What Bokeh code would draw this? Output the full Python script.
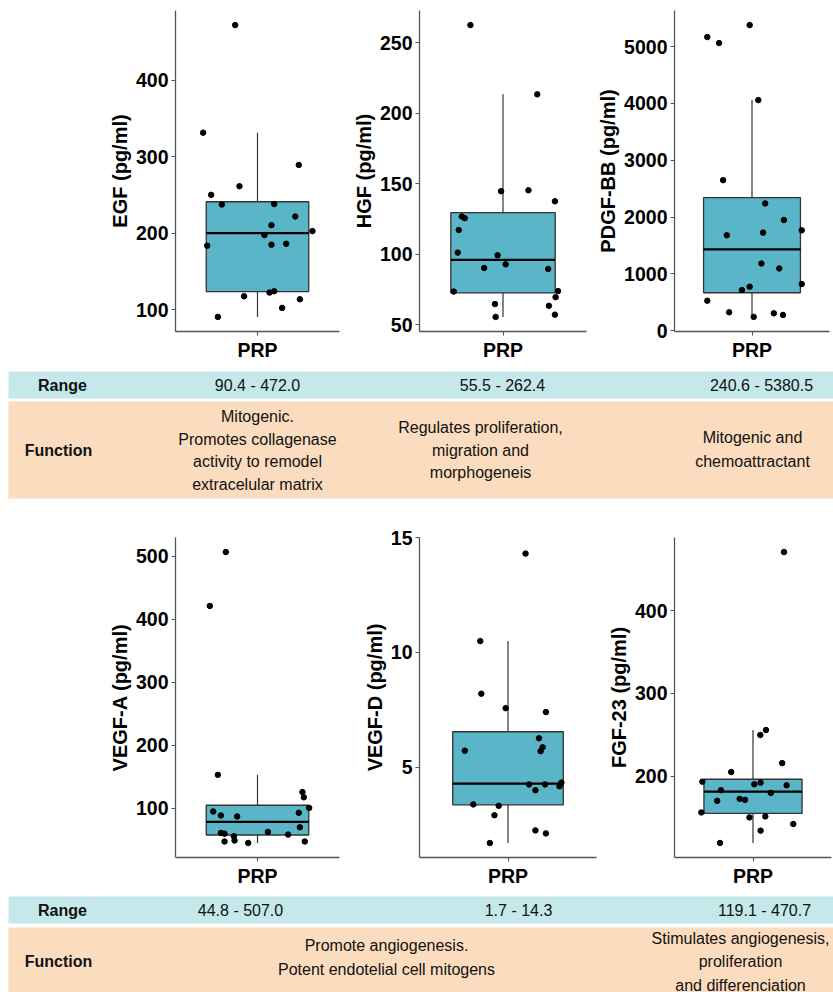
import numpy as np
from bokeh.plotting import figure
from bokeh.models import Range1d, FixedTicker
from bokeh.layouts import row, column
from bokeh.embed import file_html
from bokeh.resources import INLINE
from bokeh.core.properties import value

# ---------------- data ----------------
EGF_vals = [472.0, 331.3, 289.1, 261.3, 250.0, 237.4, 238.0, 221.7, 210.4, 202.6,
            197.4, 183.5, 184.8, 186.1, 117.4, 122.2, 124.0, 113.5, 102.2, 90.4]
EGF_jit = [-0.163, -0.398, 0.302, -0.132, -0.339, -0.261, 0.122, 0.276, 0.102, 0.402,
           0.051, -0.368, 0.102, 0.210, -0.098, 0.088, 0.122, 0.310, 0.180, -0.290]
EGF_ticks = [100, 200, 300, 400]

HGF_vals = [262.4, 213.3, 144.6, 145.3, 137.5, 126.7, 125.5, 117.1, 101.1, 99.2,
            92.8, 90.2, 89.5, 73.5, 73.8, 69.5, 64.6, 63.4, 55.5, 57.1]
HGF_jit = [-0.234, 0.246, -0.014, 0.183, 0.373, -0.296, -0.275, -0.318, -0.325, -0.039,
           0.019, -0.135, 0.325, -0.354, 0.395, 0.378, -0.058, 0.330, -0.053, 0.373]
HGF_ticks = [50, 100, 150, 200, 250]

PDGF_vals = [5380.5, 5170, 5064, 4059, 2649, 2240, 1947, 1766, 1725, 1678,
             1181, 1094, 819, 772, 713, 526, 322, 304, 275, 240.6]
PDGF_jit = [-0.018, -0.346, -0.255, 0.049, -0.224, 0.102, 0.247, 0.385, 0.086, -0.195,
            0.073, 0.211, 0.385, -0.018, -0.078, -0.346, -0.177, 0.169, 0.240, 0.013]
PDGF_ticks = [0, 1000, 2000, 3000, 4000, 5000]

VEGFA_vals = [507.0, 421.4, 153.0, 125.7, 117.3, 100.5, 94.8, 92.7, 88.5, 86.9,
              69.6, 62.3, 60.7, 59.6, 58.1, 55.4, 48.6, 47.1, 44.8, 47.1]
VEGFA_jit = [-0.232, -0.349, -0.290, 0.329, 0.339, 0.378, -0.324, 0.302, -0.268, -0.149,
             0.310, 0.076, -0.268, -0.241, 0.224, -0.173, -0.168, -0.241, -0.068, 0.346]
VEGFA_ticks = [100, 200, 300, 400, 500]

VEGFD_vals = [14.3, 10.49, 8.2, 7.57, 7.40, 6.26, 5.87, 5.70, 5.72, 4.25,
              4.25, 4.33, 4.17, 4.0, 3.38, 3.32, 2.91, 2.25, 2.12, 1.7]
VEGFD_jit = [0.119, -0.188, -0.181, -0.016, 0.257, 0.210, 0.235, 0.221, -0.293, 0.143,
             0.251, 0.362, 0.349, 0.186, -0.235, -0.063, -0.092, 0.186, 0.257, -0.123]
VEGFD_ticks = [5, 10, 15]

FGF_vals = [470.7, 255.6, 249.6, 215.6, 204.8, 193.2, 192.0, 190.0, 188.8, 182.8,
            179.6, 172.4, 171.2, 170.0, 156.0, 150.0, 151.2, 142.0, 134.0, 119.1]
FGF_jit = [0.237, 0.099, 0.056, 0.223, -0.167, -0.387, 0.058, 0.010, 0.257, -0.245,
           0.136, -0.102, -0.061, -0.274, -0.395, -0.027, 0.094, 0.308, 0.058, -0.252]
FGF_ticks = [200, 300, 400]

group_label = "PRP"

ranges_top = ["90.4 - 472.0", "55.5 - 262.4", "240.6 - 5380.5"]
functions_top = [["Mitogenic.", "Promotes collagenase", "activity to remodel", "extracelular matrix"],
                 ["Regulates proliferation,", "migration and", "morphogeneis"],
                 ["Mitogenic and", "chemoattractant"]]
ranges_bot = ["44.8 - 507.0", "1.7 - 14.3", "119.1 - 470.7"]
functions_bot = [["Promote angiogenesis.", "Potent endotelial cell mitogens"],
                 ["Stimulates angiogenesis,", "proliferation", "and differenciation"]]

# ---------------- style ----------------
BOX_FILL = "#5bb5c9"
BOX_LINE = "#333333"
AXIS_COL = "#555555"
FONT = "Liberation Sans"
TFONT = "Liberation Sans"
BLUE = "#c5e8eb"
PEACH = "#fcdcbf"
BOX_HALF = 0.375
TICK_SIZE = "19.5px"
TITLE_SIZE = "20px"
TABLE_SIZE = "16px"


def box_panel(vals, jit, ticks, ylabel, width, height, bl, br, bt, bb):
    v = np.array(vals, dtype=float)
    q1, med, q3 = np.percentile(v, [25, 50, 75])
    iqr = q3 - q1
    lo = v[v >= q1 - 1.5 * iqr].min()
    hi = v[v <= q3 + 1.5 * iqr].max()
    r = v.max() - v.min()
    y0 = v.min() - 0.05 * r
    y1 = v.max() + 0.05 * r
    for t in ticks:
        if t > y1 and t - y1 < 0.01 * r:
            y1 = t
        if t < y0 and y0 - t < 0.01 * r:
            y0 = t
    p = figure(width=width, height=height, output_backend="svg", toolbar_location=None,
               x_range=Range1d(0.4, 1.6), y_range=Range1d(y0, y1),
               min_border_left=bl, min_border_right=br, min_border_top=bt,
               min_border_bottom=bb)
    p.outline_line_color = None
    p.grid.visible = False
    p.background_fill_color = "white"
    p.border_fill_color = "white"
    # whiskers
    p.segment(x0=[1, 1], y0=[lo, q3], x1=[1, 1], y1=[q1, hi], line_color=BOX_LINE,
              line_width=1.2)
    # box
    p.quad(left=[1 - BOX_HALF], right=[1 + BOX_HALF], bottom=[q1], top=[q3],
           fill_color=BOX_FILL, line_color=BOX_LINE, line_width=1.3)
    p.segment(x0=[1 - BOX_HALF], x1=[1 + BOX_HALF], y0=[med], y1=[med],
              line_color="black", line_width=2.2)
    # points
    p.scatter(x=1 + np.array(jit), y=v, size=5.5, color="black")

    p.xaxis.ticker = FixedTicker(ticks=[1])
    p.xaxis.major_label_overrides = {1: group_label}
    p.yaxis.ticker = FixedTicker(ticks=ticks)
    p.yaxis.axis_label = ylabel
    for ax in (p.xaxis[0], p.yaxis[0]):
        ax.axis_line_color = AXIS_COL
        ax.axis_line_width = 1.3
        ax.major_tick_line_color = AXIS_COL
        ax.major_tick_line_width = 1.1
        ax.major_tick_out = 4
        ax.major_tick_in = 0
        ax.minor_tick_line_color = None
        ax.major_label_text_font = FONT
        ax.major_label_text_font_style = "bold"
        ax.major_label_text_font_size = TICK_SIZE
        ax.major_label_text_color = "black"
        ax.major_label_standoff = 3
    p.yaxis.axis_label_text_font = FONT
    p.yaxis.axis_label_text_font_style = "bold"
    p.yaxis.axis_label_text_font_size = TITLE_SIZE
    p.yaxis.axis_label_text_color = "black"
    p.yaxis.axis_label_standoff = 2
    return p


def table_panel(height, blue_tb, peach_tb, range_y, range_xs, ranges,
                label_pos, func_xs, func_ys, funcs, line_gaps):
    W = 833
    p = figure(width=W, height=height, output_backend="svg", toolbar_location=None,
               x_range=Range1d(0, W), y_range=Range1d(height, 0),
               x_axis_type=None, y_axis_type=None, min_border=0)
    p.outline_line_color = None
    p.grid.visible = False
    p.quad(left=[8], right=[W], top=[blue_tb[0]], bottom=[blue_tb[1]],
           fill_color=BLUE, line_color=None)
    p.quad(left=[8], right=[W], top=[peach_tb[0]], bottom=[peach_tb[1]],
           fill_color=PEACH, line_color=None)
    common = dict(text_font=value(TFONT), text_font_size=TABLE_SIZE, text_color="#111111",
                  text_align="center", text_baseline="middle")
    p.text(x=[label_pos[0]], y=[range_y], text=["Range"], text_font_style="bold", **common)
    p.text(x=[label_pos[1]], y=[label_pos[2]], text=["Function"], text_font_style="bold",
           **common)
    p.text(x=range_xs, y=[range_y] * len(ranges), text=ranges, **common)
    xs, ys, ts = [], [], []
    for cx, cy, gap, lines in zip(func_xs, func_ys, line_gaps, funcs):
        n = len(lines)
        for i, t in enumerate(lines):
            xs.append(cx)
            ys.append(cy + (i - (n - 1) / 2) * gap)
            ts.append(t)
    p.text(x=xs, y=ys, text=ts, **common)
    return p


p1 = box_panel(EGF_vals, EGF_jit, EGF_ticks, "EGF (pg/ml)", 345, 366, 175, 6, 10, 35)
p2 = box_panel(HGF_vals, HGF_jit, HGF_ticks, "HGF (pg/ml)", 247, 366, 74, 6, 10, 35)
p3 = box_panel(PDGF_vals, PDGF_jit, PDGF_ticks, "PDGF-BB (pg/ml)", 241, 366, 82, 4, 10, 35)

p4 = box_panel(VEGFA_vals, VEGFA_jit, VEGFA_ticks, "VEGF-A (pg/ml)", 345, 370, 175, 6, 17, 33)
p5 = box_panel(VEGFD_vals, VEGFD_jit, VEGFD_ticks, "VEGF-D (pg/ml)", 255, 370, 74, 4, 17, 33)
p6 = box_panel(FGF_vals, FGF_jit, FGF_ticks, "FGF-23 (pg/ml)", 233, 370, 74, 2, 17, 33)

t1 = table_panel(154, (5, 32), (35, 132), 18.5, [257, 502, 761], ranges_top,
                 (62, 58, 83.5), [257, 480, 752], [84, 83.5, 83], functions_top,
                 [22.7, 22.5, 24])
t2 = table_panel(102, (6, 33), (37, 110), 19.5, [240, 518, 764], ranges_bot,
                 (62, 58, 71), [386, 740], [67, 71], functions_bot, [24, 23.5])

layout = column(row(p1, p2, p3), t1, row(p4, p5, p6), t2)

open("out.html", "w").write(file_html(layout, INLINE))
